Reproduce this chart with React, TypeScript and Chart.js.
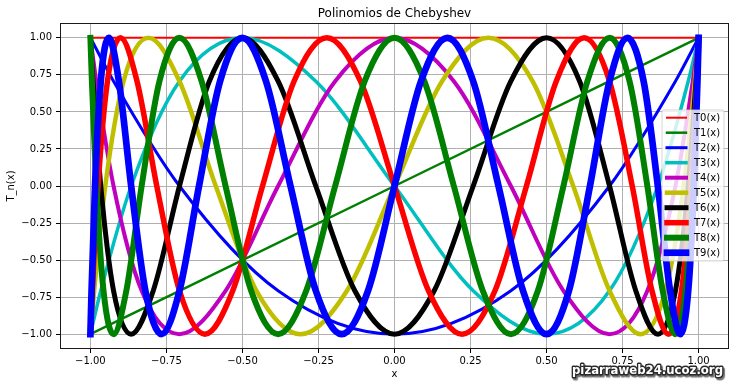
import React, { useEffect, useRef } from 'react';
import { Chart, registerables } from 'chart.js';

Chart.register(...registerables);

const TITLE = 'Polinomios de Chebyshev';
const X_LABEL = 'x';
const Y_LABEL = 'T_n(x)';
const WATERMARK = 'pizarraweb24.ucoz.org';

const X_TICKS = [-1, -0.75, -0.5, -0.25, 0, 0.25, 0.5, 0.75, 1];
const Y_TICKS = [-1, -0.75, -0.5, -0.25, 0, 0.25, 0.5, 0.75, 1];

const SERIES_NAMES = ['T0(x)', 'T1(x)', 'T2(x)', 'T3(x)', 'T4(x)', 'T5(x)', 'T6(x)', 'T7(x)', 'T8(x)', 'T9(x)'];
const COLORS = ['#ff0000', '#008000', '#0000ff', '#00bfbf', '#bf00bf', '#bfbf00', '#000000', '#ff0000', '#008000', '#0000ff'];
const WIDTHS = [2, 2.5, 3, 3.5, 4, 4.5, 5, 5.5, 6, 6.7];

const T0_X = [-1, 1];
const T0_Y = [1, 1];

const T1_X = [-1, -0.7071, 0, 0.7071, 1];
const T1_Y = [-1, -0.7071, 0, 0.7071, 1];

const T2_X = [-1, -0.9239, -0.7071, -0.3827, 0, 0.3827, 0.7071, 0.9239, 1];
const T2_Y = [1, 0.7071, 0, -0.7071, -1, -0.7071, 0, 0.7071, 1];

const T3_X = [-1, -0.9659, -0.866, -0.7071, -0.5, -0.2588, 0, 0.2588, 0.5, 0.7071, 0.866, 0.9659, 1];
const T3_Y = [-1, -0.7071, 0, 0.7071, 1, 0.7071, 0, -0.7071, -1, -0.7071, 0, 0.7071, 1];

const T4_X = [-1, -0.9808, -0.9239, -0.8315, -0.7071, -0.5556, -0.3827, -0.1951, 0, 0.1951, 0.3827, 0.5556, 0.7071, 0.8315, 0.9239, 0.9808, 1];
const T4_Y = [1, 0.7071, 0, -0.7071, -1, -0.7071, 0, 0.7071, 1, 0.7071, 0, -0.7071, -1, -0.7071, 0, 0.7071, 1];

const T5_X = [-1, -0.9877, -0.9511, -0.891, -0.809, -0.7071, -0.5878, -0.454, -0.309, -0.1564, 0, 0.1564, 0.309, 0.454, 0.5878, 0.7071, 0.809, 0.891, 0.9511, 0.9877, 1];
const T5_Y = [-1, -0.7071, 0, 0.7071, 1, 0.7071, 0, -0.7071, -1, -0.7071, 0, 0.7071, 1, 0.7071, 0, -0.7071, -1, -0.7071, 0, 0.7071, 1];

const T6_X = [-1, -0.9914, -0.9659, -0.9239, -0.866, -0.7934, -0.7071, -0.6088, -0.5, -0.3827, -0.2588, -0.1305, 0, 0.1305, 0.2588, 0.3827, 0.5, 0.6088, 0.7071, 0.7934, 0.866, 0.9239, 0.9659, 0.9914, 1];
const T6_Y = [1, 0.7071, 0, -0.7071, -1, -0.7071, 0, 0.7071, 1, 0.7071, 0, -0.7071, -1, -0.7071, 0, 0.7071, 1, 0.7071, 0, -0.7071, -1, -0.7071, 0, 0.7071, 1];

const T7_X = [-1, -0.9937, -0.9749, -0.9439, -0.901, -0.8467, -0.7818, -0.7071, -0.6235, -0.532, -0.4339, -0.3303, -0.2225, -0.112, 0, 0.112, 0.2225, 0.3303, 0.4339, 0.532, 0.6235, 0.7071, 0.7818, 0.8467, 0.901, 0.9439, 0.9749, 0.9937, 1];
const T7_Y = [-1, -0.7071, 0, 0.7071, 1, 0.7071, 0, -0.7071, -1, -0.7071, 0, 0.7071, 1, 0.7071, 0, -0.7071, -1, -0.7071, 0, 0.7071, 1, 0.7071, 0, -0.7071, -1, -0.7071, 0, 0.7071, 1];

const T8_X = [-1, -0.9952, -0.9808, -0.9569, -0.9239, -0.8819, -0.8315, -0.773, -0.7071, -0.6344, -0.5556, -0.4714, -0.3827, -0.2903, -0.1951, -0.098, 0, 0.098, 0.1951, 0.2903, 0.3827, 0.4714, 0.5556, 0.6344, 0.7071, 0.773, 0.8315, 0.8819, 0.9239, 0.9569, 0.9808, 0.9952, 1];
const T8_Y = [1, 0.7071, 0, -0.7071, -1, -0.7071, 0, 0.7071, 1, 0.7071, 0, -0.7071, -1, -0.7071, 0, 0.7071, 1, 0.7071, 0, -0.7071, -1, -0.7071, 0, 0.7071, 1, 0.7071, 0, -0.7071, -1, -0.7071, 0, 0.7071, 1];

const T9_X = [-1, -0.9962, -0.9848, -0.9659, -0.9397, -0.9063, -0.866, -0.8192, -0.766, -0.7071, -0.6428, -0.5736, -0.5, -0.4226, -0.342, -0.2588, -0.1736, -0.0872, 0, 0.0872, 0.1736, 0.2588, 0.342, 0.4226, 0.5, 0.5736, 0.6428, 0.7071, 0.766, 0.8192, 0.866, 0.9063, 0.9397, 0.9659, 0.9848, 0.9962, 1];
const T9_Y = [-1, -0.7071, 0, 0.7071, 1, 0.7071, 0, -0.7071, -1, -0.7071, 0, 0.7071, 1, 0.7071, 0, -0.7071, -1, -0.7071, 0, 0.7071, 1, 0.7071, 0, -0.7071, -1, -0.7071, 0, 0.7071, 1, 0.7071, 0, -0.7071, -1, -0.7071, 0, 0.7071, 1];

const SERIES_X = [T0_X, T1_X, T2_X, T3_X, T4_X, T5_X, T6_X, T7_X, T8_X, T9_X];
const SERIES_Y = [T0_Y, T1_Y, T2_Y, T3_Y, T4_Y, T5_Y, T6_Y, T7_Y, T8_Y, T9_Y];

const FONT = '"DejaVu Sans", "Liberation Sans", sans-serif';

const fmt = (v: number) => (v < 0 ? '\u2212' : '') + Math.abs(v).toFixed(2);

const decorPlugin = {
  id: 'decor',
  afterDatasetsDraw(chart: any) {
    const ctx = chart.ctx;
    const a = chart.chartArea;
    ctx.save();
    // frame
    ctx.strokeStyle = '#1a1a1a';
    ctx.lineWidth = 1;
    ctx.strokeRect(Math.round(a.left) + 0.5, Math.round(a.top) + 0.5, Math.round(a.right - a.left) - 1, Math.round(a.bottom - a.top) - 1);

    // legend
    const lx = 662, ly = 110, lw = 62, lh = 151;
    ctx.beginPath();
    const r = 2;
    ctx.moveTo(lx + r, ly);
    ctx.lineTo(lx + lw - r, ly);
    ctx.quadraticCurveTo(lx + lw, ly, lx + lw, ly + r);
    ctx.lineTo(lx + lw, ly + lh - r);
    ctx.quadraticCurveTo(lx + lw, ly + lh, lx + lw - r, ly + lh);
    ctx.lineTo(lx + r, ly + lh);
    ctx.quadraticCurveTo(lx, ly + lh, lx, ly + lh - r);
    ctx.lineTo(lx, ly + r);
    ctx.quadraticCurveTo(lx, ly, lx + r, ly);
    ctx.closePath();
    ctx.fillStyle = 'rgba(255,255,255,0.8)';
    ctx.fill();
    ctx.strokeStyle = 'rgba(204,204,204,0.8)';
    ctx.lineWidth = 1;
    ctx.stroke();

    const dsets = chart.data.datasets;
    ctx.font = '10px ' + FONT;
    ctx.textBaseline = 'middle';
    ctx.textAlign = 'left';
    for (let i = 0; i < dsets.length; i++) {
      const y = 117.7 + 15 * i;
      ctx.beginPath();
      ctx.strokeStyle = dsets[i].borderColor;
      ctx.lineWidth = dsets[i].borderWidth;
      ctx.lineCap = 'square';
      ctx.moveTo(667, y);
      ctx.lineTo(686, y);
      ctx.stroke();
      ctx.fillStyle = '#000';
      ctx.fillText(dsets[i].label, 694, y + 0.5);
    }
    ctx.restore();
  },
  afterDraw(chart: any) {
    const ctx = chart.ctx;
    const a = chart.chartArea;
    const cx = (a.left + a.right) / 2;
    const cy = (a.top + a.bottom) / 2;
    ctx.save();
    ctx.fillStyle = '#000';
    ctx.textAlign = 'center';
    ctx.textBaseline = 'alphabetic';
    ctx.font = '12px ' + FONT;
    ctx.fillText(TITLE, cx, 16.5);
    ctx.font = '10px ' + FONT;
    ctx.textBaseline = 'middle';
    ctx.fillText(X_LABEL, cx, 374);
    ctx.save();
    ctx.translate(11, cy);
    ctx.rotate(-Math.PI / 2);
    ctx.fillText(Y_LABEL, 0, 0);
    ctx.restore();

    // watermark
    ctx.font = 'bold 13px ' + FONT;
    ctx.textAlign = 'left';
    ctx.textBaseline = 'alphabetic';
    const w = ctx.measureText(WATERMARK).width;
    ctx.translate(572, 374);
    ctx.scale(151 / w, 1);
    ctx.lineJoin = 'round';
    ctx.shadowColor = 'rgba(0,0,0,0.55)';
    ctx.shadowOffsetX = 1.5;
    ctx.shadowOffsetY = 1.5;
    ctx.shadowBlur = 1;
    ctx.lineWidth = 3;
    ctx.strokeStyle = '#2a2a2a';
    ctx.strokeText(WATERMARK, 0, 0);
    ctx.shadowColor = 'transparent';
    ctx.fillStyle = '#ffffff';
    ctx.fillText(WATERMARK, 0, 0);
    ctx.restore();
  },
};

export default function App() {
  const ref = useRef<HTMLCanvasElement | null>(null);
  useEffect(() => {
    if (!ref.current) return;
    const datasets = SERIES_NAMES.map((name, n) => ({
      label: name,
      data: SERIES_X[n].map((x, i) => ({ x, y: SERIES_Y[n][i] })),
      borderColor: COLORS[n],
      backgroundColor: COLORS[n],
      borderWidth: WIDTHS[n],
      pointRadius: 0,
      pointHoverRadius: 0,
      fill: false,
      cubicInterpolationMode: 'monotone' as const,
      borderCapStyle: 'square' as const,
      borderJoinStyle: 'round' as const,
      order: 9 - n,
    }));
    const chart = new Chart(ref.current, {
      type: 'line',
      data: { datasets },
      options: {
        animation: false,
        responsive: false,
        devicePixelRatio: 1,
        events: [],
        layout: { padding: { top: 23, right: 7, left: 0, bottom: 0 } },
        plugins: {
          legend: { display: false },
          tooltip: { enabled: false },
          title: { display: false },
        },
        scales: {
          x: {
            type: 'linear',
            min: -1.1,
            max: 1.1,
            afterBuildTicks: (axis: any) => {
              axis.ticks = X_TICKS.map((v) => ({ value: v }));
            },
            afterFit: (axis: any) => {
              axis.height = 38;
            },
            grid: { color: '#b0b0b0', lineWidth: 1, tickLength: 4, tickColor: '#000', drawTicks: true },
            border: { display: false },
            ticks: {
              autoSkip: false,
              maxRotation: 0,
              minRotation: 0,
              padding: 2,
              color: '#000',
              font: { family: FONT, size: 10 },
              callback: (v: any) => fmt(Number(v)),
            },
          },
          y: {
            type: 'linear',
            min: -1.1,
            max: 1.1,
            afterBuildTicks: (axis: any) => {
              axis.ticks = Y_TICKS.map((v) => ({ value: v }));
            },
            afterFit: (axis: any) => {
              axis.width = 60;
            },
            grid: { color: '#b0b0b0', lineWidth: 1, tickLength: 4, tickColor: '#000', drawTicks: true },
            border: { display: false },
            ticks: {
              autoSkip: false,
              padding: 4,
              color: '#000',
              font: { family: FONT, size: 10 },
              callback: (v: any) => fmt(Number(v)),
            },
          },
        },
      },
      plugins: [decorPlugin],
    } as any);
    return () => chart.destroy();
  }, []);

  return (
    <div style={{ position: 'fixed', left: 0, top: 0, width: 736, height: 387, background: '#fff' }}>
      <canvas ref={ref} width={736} height={387} style={{ width: 736, height: 387, display: 'block' }} />
    </div>
  );
}
